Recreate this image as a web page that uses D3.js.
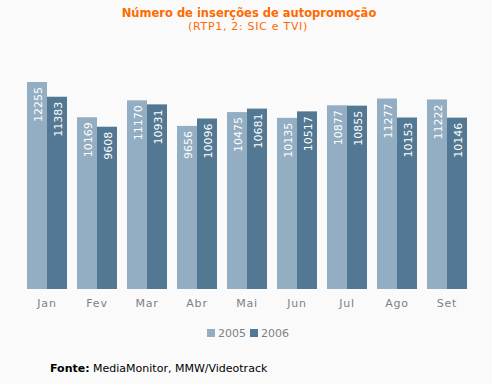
<!DOCTYPE html>
<html>
<head>
<meta charset="utf-8">
<script src="https://cdn.jsdelivr.net/npm/d3@7"></script>
<style>
  body { margin: 0; background: #fafafa; }
  svg { display: block; font-family: "DejaVu Sans", Verdana, sans-serif; }
</style>
</head>
<body>
<div id="chart"></div>
<script>
var months = ["Jan", "Fev", "Mar", "Abr", "Mai", "Jun", "Jul", "Ago", "Set"];
var series = ["2005", "2006"];
var values2005 = [12255, 10169, 11170, 9656, 10475, 10135, 10877, 11277, 11222];
var values2006 = [11383, 9608, 10931, 10096, 10681, 10517, 10855, 10153, 10146];
var colors = ["#93adc2", "#537893"];

var width = 492, height = 384;

var svg = d3.select("#chart").append("svg")
    .attr("width", width)
    .attr("height", height);

svg.append("rect")
    .attr("width", width).attr("height", height)
    .attr("fill", "#fafafa");

// titles
svg.append("text")
    .attr("x", 249).attr("y", 17)
    .attr("text-anchor", "middle")
    .attr("fill", "#ff6a00")
    .style("font-size", "11.5px")
    .style("font-weight", "bold")
    .text("Número de inserções de autopromoção");

svg.append("text")
    .attr("x", 248).attr("y", 30)
    .attr("text-anchor", "middle")
    .attr("fill", "#ff6a00")
    .style("font-size", "11px")
    .style("letter-spacing", "0.7px")
    .text("(RTP1, 2: SIC e TVI)");

var x = d3.scaleBand()
    .domain(months)
    .range([22, 472])
    .paddingInner(0.2)
    .paddingOuter(0.1);

var xs = d3.scaleBand()
    .domain(series)
    .range([0, x.bandwidth()]);

var y = d3.scaleLinear()
    .domain([0, 14000])
    .range([289, 289 - 14000 * 0.01689]);

var data = months.map(function (m, i) {
    return { month: m, values: [values2005[i], values2006[i]] };
});

var groups = svg.selectAll(".month")
    .data(data)
    .enter().append("g")
    .attr("class", "month")
    .attr("transform", function (d) { return "translate(" + x(d.month) + ",0)"; });

var bars = groups.selectAll(".bar")
    .data(function (d) { return d.values.map(function (v, j) { return { s: series[j], v: v, j: j }; }); })
    .enter();

bars.append("rect")
    .attr("x", function (d) { return xs(d.s); })
    .attr("y", function (d) { return y(d.v); })
    .attr("width", xs.bandwidth())
    .attr("height", function (d) { return y(0) - y(d.v); })
    .attr("fill", function (d) { return colors[d.j]; });

bars.append("text")
    .attr("transform", function (d) {
        return "translate(" + (xs(d.s) + xs.bandwidth() / 2 + 4.5) + "," + (y(d.v) + 5) + ") rotate(-90)";
    })
    .attr("text-anchor", "end")
    .attr("fill", "#fff")
    .style("font-size", "11px")
    .text(function (d) { return d.v; });

// month labels
svg.selectAll(".mlabel")
    .data(months)
    .enter().append("text")
    .attr("x", function (d) { return x(d) + x.bandwidth() / 2; })
    .attr("y", 307)
    .attr("text-anchor", "middle")
    .attr("fill", "#808080")
    .style("font-size", "11px")
    .style("letter-spacing", "0.8px")
    .text(function (d) { return d; });

// legend
var legend = svg.selectAll(".legend")
    .data(series)
    .enter().append("g")
    .attr("transform", function (d, i) { return "translate(" + (207 + i * 43) + ",329)"; });

legend.append("rect")
    .attr("width", 8).attr("height", 8)
    .attr("fill", function (d, i) { return colors[i]; });

legend.append("text")
    .attr("x", 11).attr("y", 8)
    .attr("fill", "#808080")
    .style("font-size", "11px")
    .text(function (d) { return d; });

// source
var src = svg.append("text")
    .attr("x", 50).attr("y", 372)
    .attr("fill", "#000")
    .style("font-size", "11px");
src.append("tspan").style("font-weight", "bold").text("Fonte:");
src.append("tspan").text(" MediaMonitor, MMW/Videotrack");
</script>
</body>
</html>
